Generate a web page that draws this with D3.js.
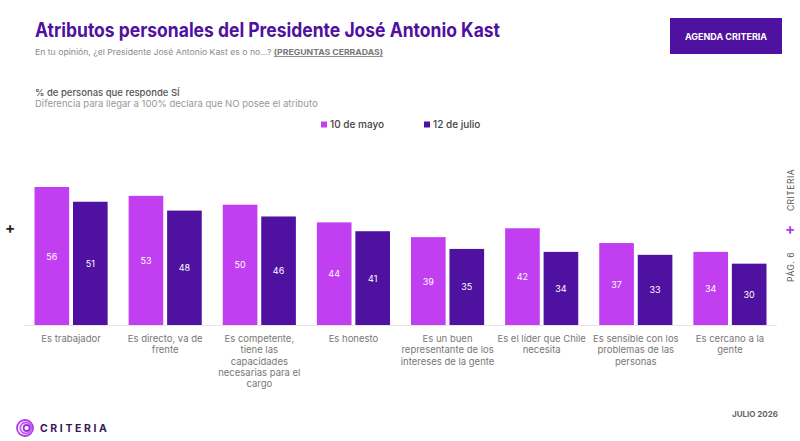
<!DOCTYPE html>
<html><head><meta charset="utf-8">
<script src="https://cdn.jsdelivr.net/npm/d3@7/dist/d3.min.js"></script>
<style>body{margin:0;background:#fff;}svg{display:block;font-family:Inter,"Noto Sans",sans-serif;}</style>
</head><body><svg id="c" width="800" height="441"></svg>
<script>
const categories = ["Es trabajador","Es directo, va de frente","Es competente, tiene las capacidades necesarias para el cargo","Es honesto","Es un buen representante de los intereses de la gente","Es el líder que Chile necesita","Es sensible con los problemas de las personas","Es cercano a la gente"];
const catLines = [["Es trabajador"],["Es directo, va de","frente"],["Es competente,","tiene las","capacidades","necesarias para el","cargo"],["Es honesto"],["Es un buen","representante de los","intereses de la gente"],["Es el líder que Chile","necesita"],["Es sensible con los","problemas de las","personas"],["Es cercano a la","gente"]];
const seriesNames = ["10 de mayo","12 de julio"];
const mayo = [56,53,50,44,39,42,37,34];
const julio = [51,48,46,41,35,34,33,30];
const colors = ["#c13ff0","#4f11a0"];

const svg = d3.select("#c");
const x0 = d3.scaleBand().domain(categories).range([24,777]).paddingInner(0).paddingOuter(0);
const x1 = d3.scaleBand().domain(seriesNames).range([10.5, x0.bandwidth()-10.5]).paddingInner(0.1);
const y = d3.scaleLinear().domain([9.2,56]).range([325,187]);

// title
svg.append("text").attr("x",35).attr("y",37).attr("fill","#4f11a0").attr("font-size",19.5).attr("font-weight",700)
  .attr("textLength",465).attr("lengthAdjust","spacingAndGlyphs").text("Atributos personales del Presidente José Antonio Kast");
const sub = svg.append("text").attr("x",35).attr("y",55).attr("fill","#8a8a8a").attr("font-size",8)
  .attr("textLength",348).attr("lengthAdjust","spacingAndGlyphs");
sub.append("tspan").text("En tu opinión, ¿el Presidente José Antonio Kast es o no...? ");
sub.append("tspan").attr("font-weight",700).attr("text-decoration","underline").attr("fill","#777").text("(PREGUNTAS CERRADAS)");

// badge
svg.append("rect").attr("x",670).attr("y",18).attr("width",112).attr("height",36).attr("fill","#4f11a0");
svg.append("text").attr("x",726).attr("y",40).attr("text-anchor","middle").attr("fill","#fff").attr("font-size",9).attr("font-weight",700).text("AGENDA CRITERIA");

svg.append("text").attr("x",35).attr("y",96).attr("fill","#555").attr("font-size",9.5).attr("font-weight",500).text("% de personas que responde SÍ");
svg.append("text").attr("x",35).attr("y",107).attr("fill","#999").attr("font-size",9.5).text("Diferencia para llegar a 100% declara que NO posee el atributo");

// legend
const legX = [321,424];
seriesNames.forEach((s,i)=>{
  svg.append("rect").attr("x",legX[i]).attr("y",121.5).attr("width",6).attr("height",6).attr("fill",colors[i]);
  svg.append("text").attr("x",legX[i]+9).attr("y",128).attr("fill","#444").attr("font-size",10).attr("font-weight",500).text(s);
});

// axis line
svg.append("line").attr("x1",24).attr("x2",777).attr("y1",325.5).attr("y2",325.5).attr("stroke","#e6e6e6").attr("stroke-width",1);

const data = [mayo,julio];
const g = svg.append("g");
categories.forEach((c,ci)=>{
  seriesNames.forEach((s,si)=>{
    const v = data[si][ci];
    const bx = x0(c)+x1(s);
    g.append("rect").attr("x",bx).attr("y",y(v)).attr("width",x1.bandwidth()).attr("height",325-y(v)).attr("fill",colors[si]);
    g.append("text").attr("x",bx+x1.bandwidth()/2).attr("y",(y(v)+325)/2+3.5).attr("text-anchor","middle")
      .attr("fill","#fff").attr("font-size",9).text(v);
  });
  const t = svg.append("text").attr("x",x0(c)+x0.bandwidth()/2).attr("text-anchor","middle").attr("fill","#777").attr("font-size",9.5);
  catLines[ci].forEach((l,li)=>t.append("tspan").attr("x",x0(c)+x0.bandwidth()/2).attr("y",342+li*11.3).text(l));
});

// side decorations
svg.append("text").attr("x",10).attr("y",233).attr("text-anchor","middle").attr("font-size",15).attr("font-weight",700).attr("fill","#222").text("+");
svg.append("text").attr("transform","translate(794,190) rotate(-90)").attr("text-anchor","middle").attr("font-size",8.5).attr("fill","#555").attr("letter-spacing",0.5).text("CRITERIA");
svg.append("text").attr("x",790).attr("y",234).attr("text-anchor","middle").attr("font-size",15).attr("font-weight",700).attr("fill","#b03ae8").text("+");
svg.append("text").attr("transform","translate(794,267) rotate(-90)").attr("text-anchor","middle").attr("font-size",8.5).attr("fill","#555").attr("letter-spacing",0.5).text("PÁG. 6");

// footer
const lg = svg.append("g").attr("transform","translate(25,428)");
[8,5.5,3].forEach((r,i)=>lg.append("circle").attr("r",r).attr("cx",i*0.8).attr("fill","none").attr("stroke",["#b03ae8","#c05af0","#9a30e0"][i]).attr("stroke-width",1.8));
svg.append("text").attr("x",40).attr("y",432).attr("fill","#3a1858").attr("font-size",10.5).attr("font-weight",700).attr("letter-spacing",2.6).text("CRITERIA");
svg.append("text").attr("x",778).attr("y",417).attr("text-anchor","end").attr("fill","#666").attr("font-size",8).attr("font-weight",700).text("JULIO 2026");
</script></body></html>
